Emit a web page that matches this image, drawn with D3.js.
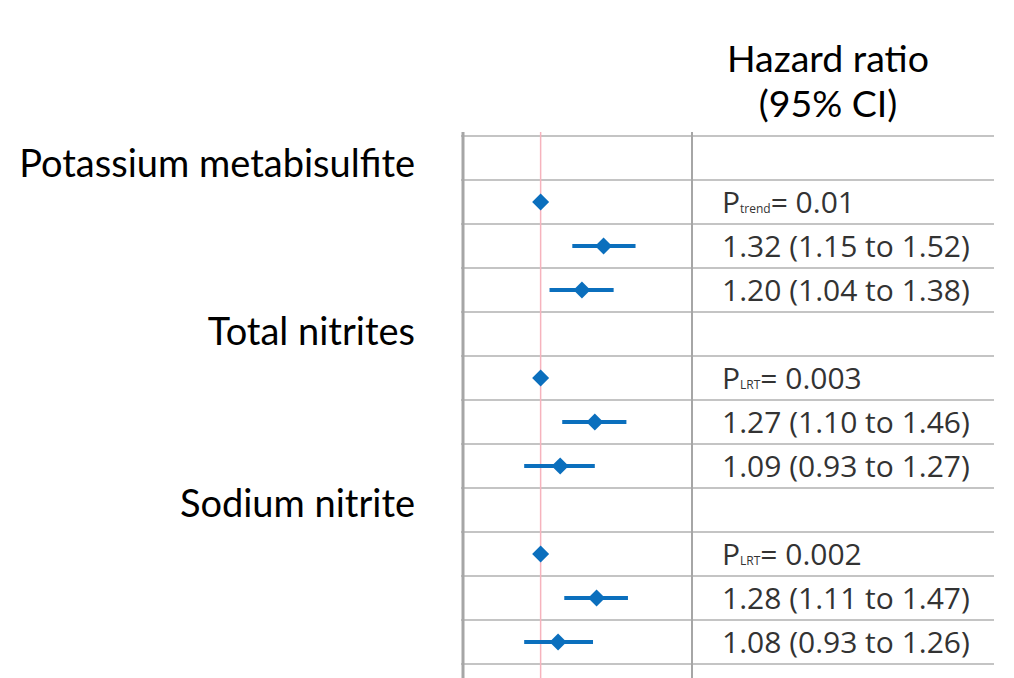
<!DOCTYPE html>
<html>
<head>
<meta charset="utf-8">
<script src="https://cdn.jsdelivr.net/npm/d3@7"></script>
<style>
  html, body { margin: 0; padding: 0; background: #fff; }
  svg { display: block; }
</style>
</head>
<body>
<svg id="chart" width="1014" height="678"></svg>
<script>
// ---- data ----
const groups = ["Potassium metabisulfite", "Total nitrites", "Sodium nitrite"];
const pSubs = ["trend", "LRT", "LRT"];
const pValues = ["0.01", "0.003", "0.002"];
const refHR = [1.00, 1.00, 1.00];
const hrEst = [1.32, 1.20, 1.27, 1.09, 1.28, 1.08];
const hrLow = [1.15, 1.04, 1.10, 0.93, 1.11, 0.93];
const hrHigh = [1.52, 1.38, 1.46, 1.27, 1.47, 1.26];
const headerLines = ["Hazard ratio", "(95% CI)"];

// ---- layout ----
const svg = d3.select("#chart");
const nRows = 12;
const labelRowPos = [0.93, 4.75, 8.66]; // baseline position of group labels, in row units
const y = d3.scaleLinear().domain([0, nRows]).range([136, 664]);
const x = d3.scaleLog().domain([0.71, 1.95]).range([463, 692]);
const blue = "#0b6fbd";
const labelFont = "Lato, 'Open Sans', sans-serif";
const valueFont = "'Open Sans', 'Noto Sans', sans-serif";

// horizontal row lines
svg.append("g").selectAll("line")
  .data(d3.range(nRows + 1))
  .join("line")
  .attr("x1", 461).attr("x2", 994)
  .attr("y1", d => y(d)).attr("y2", d => y(d))
  .attr("stroke", "#c4c4c4").attr("stroke-width", 2);

// vertical lines
svg.append("line").attr("x1", x(0.71)).attr("x2", x(0.71))
  .attr("y1", 132).attr("y2", 678).attr("stroke", "#a6a6a6").attr("stroke-width", 3);
svg.append("line").attr("x1", x(1.95)).attr("x2", x(1.95))
  .attr("y1", 132).attr("y2", 678).attr("stroke", "#a6a6a6").attr("stroke-width", 2);
svg.append("line").attr("x1", x(1)).attr("x2", x(1))
  .attr("y1", 132).attr("y2", 678).attr("stroke", "#f6b3bd").attr("stroke-width", 1.5);

// header
svg.append("g").selectAll("text")
  .data(headerLines)
  .join("text")
  .attr("x", 828).attr("y", (d, i) => 72 + i * 45)
  .attr("text-anchor", "middle")
  .attr("font-family", labelFont).attr("font-size", 37.5)
  .attr("fill", "#000")
  .text(d => d);

// group labels
svg.append("g").selectAll("text")
  .data(groups)
  .join("text")
  .attr("x", 415)
  .attr("y", (d, i) => y(labelRowPos[i]))
  .attr("text-anchor", "end")
  .attr("font-family", labelFont).attr("font-size", 38)
  .attr("fill", "#000")
  .text(d => d);

const diamond = d3.symbol().type(d3.symbolSquare).size(145);

// reference rows (P values)
const refG = svg.append("g");
groups.forEach((g, i) => {
  const cy = y(i * 4 + 1.5);
  refG.append("path").attr("d", diamond())
    .attr("transform", `translate(${x(refHR[i])},${cy}) rotate(45)`)
    .attr("fill", blue);
  const t = refG.append("text")
    .attr("x", 722).attr("y", cy + 11)
    .attr("font-family", valueFont).attr("font-size", 30)
    .attr("fill", "#333");
  t.append("tspan").text("P");
  t.append("tspan").attr("font-size", 12).text(pSubs[i]);
  t.append("tspan").text("= " + pValues[i]);
});

// estimate rows
const estRows = hrEst.map((v, k) => ({ est: v, lo: hrLow[k], hi: hrHigh[k], row: Math.floor(k / 2) * 4 + 2 + (k % 2) }));
const eg = svg.append("g");
eg.selectAll("line").data(estRows).join("line")
  .attr("x1", d => x(d.lo)).attr("x2", d => x(d.hi))
  .attr("y1", d => y(d.row + 0.5)).attr("y2", d => y(d.row + 0.5))
  .attr("stroke", blue).attr("stroke-width", 4);
eg.selectAll("path").data(estRows).join("path")
  .attr("d", diamond())
  .attr("transform", d => `translate(${x(d.est)},${y(d.row + 0.5)}) rotate(45)`)
  .attr("fill", blue);
eg.selectAll("text").data(estRows).join("text")
  .attr("x", 722).attr("y", d => y(d.row + 0.5) + 11)
  .attr("font-family", valueFont).attr("font-size", 30)
  .attr("fill", "#333")
  .text(d => `${d.est.toFixed(2)} (${d.lo.toFixed(2)} to ${d.hi.toFixed(2)})`);
</script>
</body>
</html>
